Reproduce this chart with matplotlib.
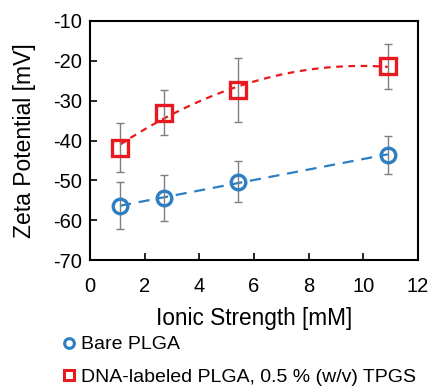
import numpy as np
import matplotlib
matplotlib.use("Agg")
import matplotlib.pyplot as plt

plt.rcParams['font.family'] = ['Liberation Sans', 'DejaVu Sans']
plt.rcParams['axes.unicode_minus'] = False

# Ionic strength [mM]
ionic = [1.1, 2.7, 5.4, 10.9]

# Zeta potential [mV] and standard deviations
bare_zeta = [-56.4, -54.5, -50.3, -43.6]
bare_err = [5.9, 5.8, 5.2, 4.7]
dna_zeta = [-41.8, -33.0, -27.3, -21.4]
dna_err = [6.2, 5.7, 8.0, 5.6]

labels = ["Bare PLGA", "DNA-labeled PLGA, 0.5 % (w/v) TPGS"]
blue = "#2E7EC1"
red = "#E8191F"

fig = plt.figure(figsize=(4.28, 3.86), dpi=100)
ax = fig.add_axes([0.2103, 0.3264, 0.7663, 0.6192])

x = np.array(ionic)
xs = np.linspace(x.min(), x.max(), 200)

# trendlines: linear for bare, quadratic for DNA-labeled
p_lin = np.polyfit(x, bare_zeta, 1)
p_quad = np.polyfit(x, dna_zeta, 2)
ax.plot(xs, np.polyval(p_lin, xs), color=blue, lw=1.6, dashes=(5, 3.5), zorder=2)
ax.plot(xs, np.polyval(p_quad, xs), color=red, lw=1.6, dashes=(3, 2.5), zorder=2)

ax.errorbar(x, bare_zeta, yerr=bare_err, fmt='none', ecolor='#7f7f7f',
            elinewidth=1.0, capsize=3, capthick=1.0, zorder=3)
ax.errorbar(x, dna_zeta, yerr=dna_err, fmt='none', ecolor='#7f7f7f',
            elinewidth=1.0, capsize=3, capthick=1.0, zorder=3)

ax.plot(x, bare_zeta, 'o', ms=10.5, mfc='none', mec=blue, mew=2.4, zorder=4)
ax.plot(x, dna_zeta, 's', ms=11.5, mfc='none', mec=red, mew=2.4, zorder=4)

ax.set_xlim(0, 12)
ax.set_ylim(-70, -10)
ax.set_xticks(range(0, 13, 2))
ax.set_yticks(range(-70, -9, 10))
ax.tick_params(direction='in', length=5, width=1.2, labelsize=14.5)
ax.tick_params(axis='y', pad=6)
ax.tick_params(axis='x', pad=12)
for s in ax.spines.values():
    s.set_linewidth(1.5)

ax.set_xlabel("Ionic Strength [mM]", fontsize=16.3, labelpad=8)
ax.set_ylabel("Zeta Potential [mV]", fontsize=16.5, labelpad=12)

lh1, = ax.plot([], [], 'o', ms=7, mfc='none', mec=blue, mew=2.2)
lh2, = ax.plot([], [], 's', ms=7, mfc='none', mec=red, mew=2.2)
fig.legend([lh1, lh2], labels, loc='upper left', bbox_to_anchor=(0.128, 0.15),
           frameon=False, fontsize=14, handlelength=0.7, handletextpad=0.25,
           labelspacing=0.75, borderaxespad=0)

fig.savefig("out.png", dpi=100)
